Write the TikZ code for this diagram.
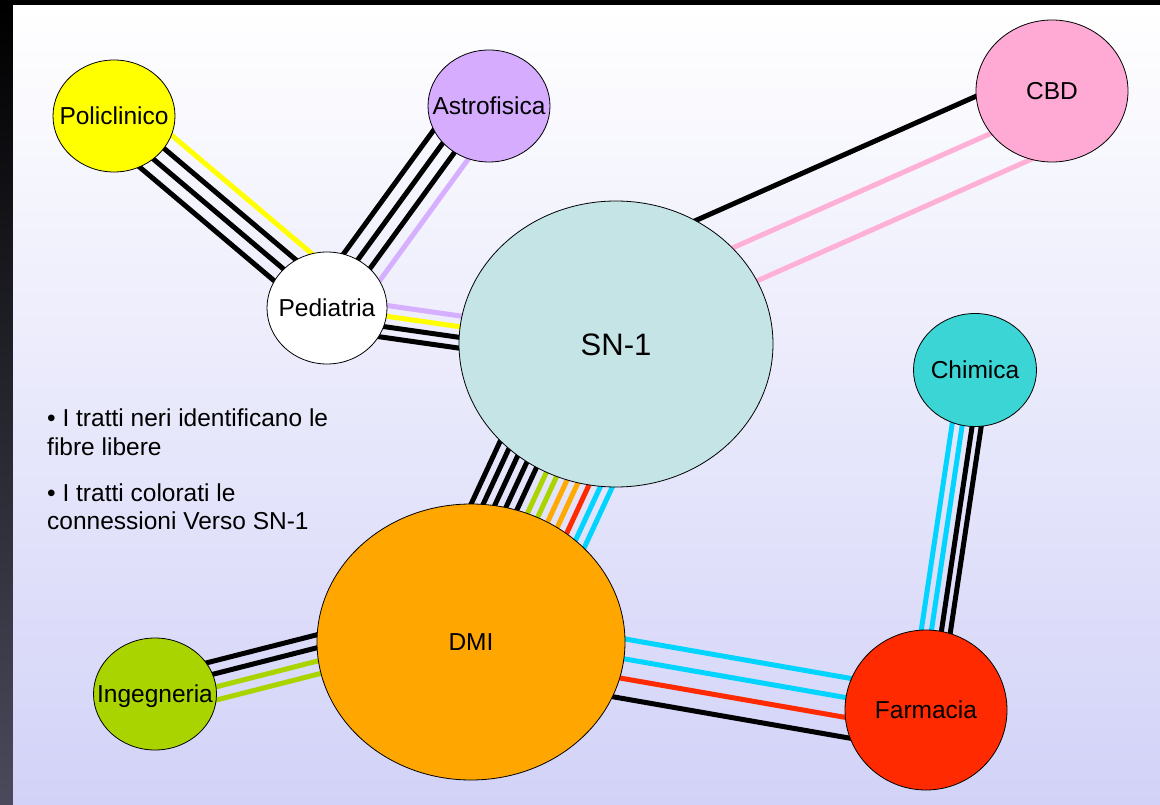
\documentclass[tikz,border=0pt]{standalone}
\usepackage{fontspec}
\setmainfont{Liberation Sans}
\usetikzlibrary{shapes.geometric,calc}
\pgfdeclarelayer{back}
\pgfdeclarelayer{wires}
\pgfsetlayers{back,wires,main}
\definecolor{polc}{RGB}{255,255,0}
\definecolor{astc}{RGB}{214,172,255}
\definecolor{snc}{RGB}{196,228,230}
\definecolor{cbdc}{RGB}{255,170,212}
\definecolor{chic}{RGB}{59,213,213}
\definecolor{dmic}{RGB}{255,166,0}
\definecolor{ingc}{RGB}{170,212,0}
\definecolor{farc}{RGB}{255,42,0}
\definecolor{fcyan}{RGB}{0,212,255}
\definecolor{fpink}{RGB}{255,176,214}
\definecolor{fpurp}{RGB}{214,176,255}
\definecolor{foran}{RGB}{255,170,0}
\definecolor{fyel}{RGB}{255,255,0}
\definecolor{fgreen}{RGB}{170,212,0}
\definecolor{fred}{RGB}{255,42,0}
\definecolor{panelbot}{RGB}{210,210,248}
\definecolor{stripmid}{RGB}{22,22,52}
\definecolor{stripbot}{RGB}{74,74,92}
\newcommand\fibres[5]{%
  \coordinate (fa) at ($(#1)+(#2)$);
  \coordinate (fb) at ($(#3)+(#4)$);
  \foreach \fo/\fc in {#5}{%
    \draw[fibre,\fc] ($(fa)!\fo pt!90:(fb)$) -- ($(fb)!\fo pt!-90:(fa)$);
  }%
}
\begin{document}
\begin{tikzpicture}[x=1pt,y=-1pt,
  site/.style={ellipse, draw=black, line width=0.8pt, inner sep=0pt,
    text height=17.5pt, text depth=0pt,
    font=\fontsize{24.5pt}{29pt}\selectfont},
  fibre/.style={line width=5pt},
  legend/.style={inner sep=0pt, anchor=base west,
    font=\fontsize{24.5pt}{29pt}\selectfont}]
\useasboundingbox (0,0) rectangle (1160,805);
\begin{pgfonlayer}{back}
  \fill[black] (0,0) rectangle (1160,805);
  \shade[top color=black, middle color=stripmid, bottom color=stripbot] (0,6) rectangle (13,805);
  \shade[top color=white, bottom color=panelbot] (13,6) rectangle (1160,805);
\end{pgfonlayer}

\node[site, fill=polc, minimum width=122pt, minimum height=112pt] (pol) at (114,116) {\makebox[0pt]{Policlinico}};
\node[site, fill=astc, minimum width=122pt, minimum height=112pt] (astro) at (489,106) {\makebox[0pt]{Astrofisica}};
\node[site, fill=white, minimum width=120pt, minimum height=112pt] (ped) at (327,308) {\makebox[0pt]{Pediatria}};
\node[site, fill=snc, minimum width=314pt, minimum height=286pt, text height=22.3pt,
  font=\fontsize{31pt}{36pt}\selectfont] (sn1) at (616,344) {\makebox[0pt]{SN-1}};
\node[site, fill=cbdc, minimum width=152pt, minimum height=142pt] (cbd) at (1052,91) {\makebox[0pt]{CBD}};
\node[site, fill=chic, minimum width=123pt, minimum height=113pt] (chim) at (975,370) {\makebox[0pt]{Chimica}};
\node[site, fill=dmic, minimum width=308pt, minimum height=276pt] (dmi) at (471,642) {\makebox[0pt]{DMI}};
\node[site, fill=ingc, minimum width=123pt, minimum height=112pt] (ing) at (155,694) {\makebox[0pt]{Ingegneria}};
\node[site, fill=farc, minimum width=162pt, minimum height=160pt] (farm) at (926,710) {\makebox[0pt]{Farmacia}};

\node[legend] (lg1) at (47,426) {• I tratti neri identificano le};
\node[legend] (lg2) at (47,455) {fibre libere};
\node[legend] (lg3) at (47,501) {• I tratti colorati le};
\node[legend] (lg4) at (47,529) {connessioni Verso SN-1};

\begin{pgfonlayer}{wires}
  \fibres{pol}{0,0}{ped}{6,-7}{22.5/fyel,7.5/black,-7.5/black,-22.5/black}
  \fibres{astro}{-6.5,-4.7}{ped}{3.2,2.4}{-22.5/black,-7.5/black,7.5/black,22.5/fpurp}
  \fibres{ped}{-0.7,5}{sn1}{-1.5,10.2}{16/fpurp,5.3/fyel,-5.3/black,-16/black}
  \fibres{cbd}{5.7,12.8}{sn1}{-16.4,-37.1}{-40/black,0/fpink,40/fpink}
  \fibres{sn1}{-3.4,-1.6}{dmi}{2.4,1.1}{-60.5/black,-49.5/black,-38.5/black,-27.5/black,-16.5/black,-5.5/fgreen,5.5/fgreen,16.5/foran,27.5/foran,38.5/fred,49.5/fcyan,60.5/fcyan}
  \fibres{chim}{0,0}{farm}{-1.9,-0.3}{-14.6/fcyan,-4.5/fcyan,5.5/black,14.5/black}
  \fibres{dmi}{0,0}{farm}{-2,11.2}{29.5/fcyan,9.8/fcyan,-9.8/fred,-29.5/black}
  \fibres{ing}{0.4,1.7}{dmi}{-6.4,-25}{19.2/black,6.6/black,-6.4/fgreen,-19.2/fgreen}
\end{pgfonlayer}
\end{tikzpicture}
\end{document}
